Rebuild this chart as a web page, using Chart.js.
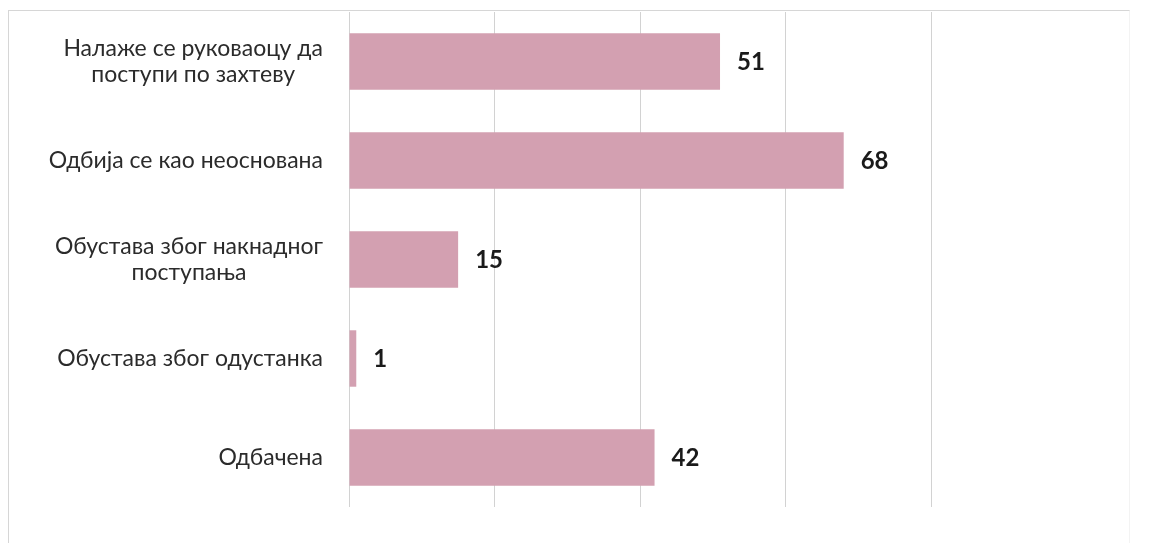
<!DOCTYPE html>
<html>
<head>
<meta charset="utf-8">
<script src="https://cdn.jsdelivr.net/npm/chart.js@4.4.1/dist/chart.umd.min.js"></script>
<style>
    html, body {
        margin: 0;
        padding: 0;
        background: #fff;
    }
    #wrap {
        position: relative;
        width: 1168px;
        height: 543px;
    }
    #frame {
        position: absolute;
        left: 8px;
        top: 10px;
        width: 1122px;
        height: 540px;
        border-left: 1px solid #d6d6d6;
        border-top: 1px solid #d6d6d6;
        border-right: 1px solid #f3f3f3;
        box-sizing: border-box;
    }
    canvas {
        position: absolute;
        left: 0;
        top: 0;
    }
</style>
</head>
<body>
<div id="wrap">
    <div id="frame"></div>
    <canvas id="chart" width="1168" height="543"></canvas>
</div>
<script>
const categories = [
    ["Налаже се руковаоцу да", "поступи по захтеву"],
    ["Одбија се као неоснована"],
    ["Обустава због накнадног", "поступања"],
    ["Обустава због одустанка"],
    ["Одбачена"]
];
const values = [51, 68, 15, 1, 42];
const axisMax = 80;
const axisStep = 20;

const barColor = "#d3a0b1";
const gridColor = "#d2d2d2";
const textColor = "#2b2b2b";

// category labels: block right-aligned to the axis, lines centred within the block
const categoryLabels = {
    id: "categoryLabels",
    afterDraw(chart) {
        const { ctx } = chart;
        const yScale = chart.scales.y;
        const right = chart.chartArea.left - 26;
        const lineH = 26;
        ctx.save();
        ctx.font = "23px Lato";
        ctx.fillStyle = textColor;
        ctx.textAlign = "center";
        ctx.textBaseline = "middle";
        categories.forEach((lines, i) => {
            const y = yScale.getPixelForValue(i);
            const w = Math.max(...lines.map(l => ctx.measureText(l).width));
            const cx = right - w / 2;
            const top = y - (lines.length - 1) * lineH / 2;
            lines.forEach((line, j) => {
                ctx.fillText(line, cx, top + j * lineH);
            });
        });
        ctx.restore();
    }
};

// value labels to the right of each bar
const valueLabels = {
    id: "valueLabels",
    afterDatasetsDraw(chart) {
        const { ctx } = chart;
        const meta = chart.getDatasetMeta(0);
        ctx.save();
        ctx.font = "bold 24px Lato";
        ctx.fillStyle = "#1a1a1a";
        ctx.textAlign = "left";
        ctx.textBaseline = "middle";
        meta.data.forEach((bar, i) => {
            ctx.fillText(String(values[i]), bar.x + 17, bar.y + 1);
        });
        ctx.restore();
    }
};

new Chart(document.getElementById("chart"), {
    type: "bar",
    data: {
        labels: categories.map(c => c.join(" ")),
        datasets: [{
            data: values,
            backgroundColor: barColor,
            borderWidth: 0,
            categoryPercentage: 1,
            barPercentage: 0.57
        }]
    },
    options: {
        indexAxis: "y",
        responsive: false,
        animation: false,
        layout: {
            padding: { top: 12, bottom: 36, right: 237, left: 0 }
        },
        plugins: {
            legend: { display: false },
            tooltip: { enabled: false }
        },
        scales: {
            x: {
                min: 0,
                max: axisMax,
                afterFit: (scale) => {
                    scale.height = 0;
                    scale.paddingLeft = 0;
                    scale.paddingRight = 0;
                },
                ticks: {
                    stepSize: axisStep,
                    display: false
                },
                grid: {
                    color: gridColor,
                    lineWidth: 1,
                    drawTicks: false
                },
                border: { display: false }
            },
            y: {
                afterFit: (scale) => {
                    scale.width = 349;
                    scale.paddingTop = 0;
                    scale.paddingBottom = 0;
                },
                ticks: { display: false },
                grid: { display: false, drawTicks: false },
                border: { display: false }
            }
        }
    },
    plugins: [valueLabels, categoryLabels]
});
</script>
</body>
</html>
